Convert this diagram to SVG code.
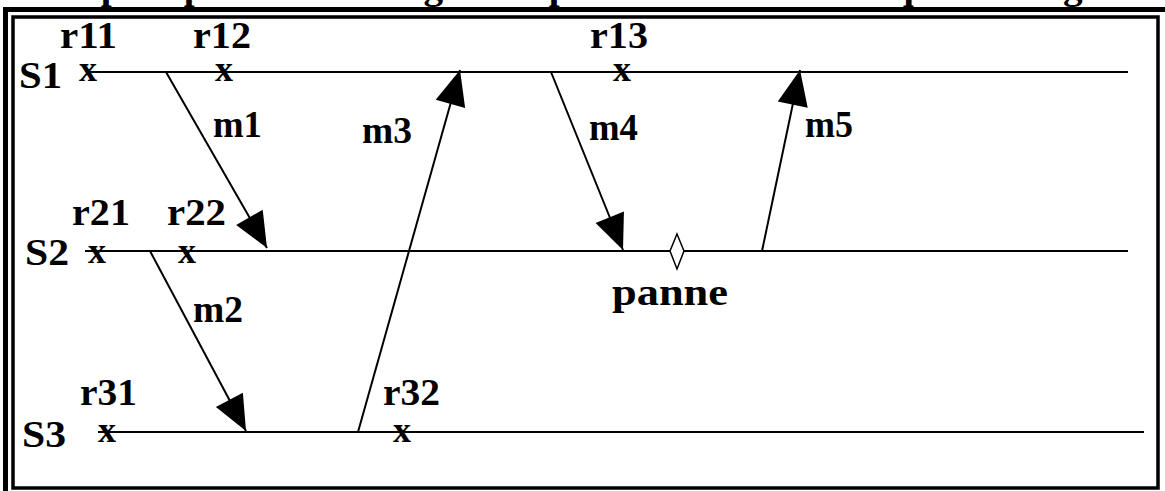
<svg xmlns="http://www.w3.org/2000/svg" width="1165" height="491" viewBox="0 0 1165 491">
<defs>
<marker id="ah" markerUnits="userSpaceOnUse" markerWidth="40" markerHeight="40" refX="30" refY="0" orient="auto" viewBox="-2 -16 34 32" overflow="visible">
<path d="M0,-13 L30,0 L0,13 Z" fill="#000"/>
</marker>
<style>
.t{font-family:"Liberation Serif","Times New Roman",serif;font-weight:bold;font-size:37px;fill:#000}
.s{font-family:"Liberation Serif","Times New Roman",serif;font-weight:bold;font-size:38px;fill:#000}
.x{font-family:"Liberation Serif","Times New Roman",serif;font-weight:bold;font-size:36px;fill:#000;text-anchor:middle}
.tl{stroke:#000;stroke-width:2.2;fill:none}
.msg{stroke:#000;stroke-width:2;fill:none;marker-end:url(#ah)}
</style>
</defs>
<rect width="1165" height="491" fill="#fff"/>
<text class="t" x="5" y="-1" font-size="32" textLength="1095" lengthAdjust="spacingAndGlyphs">Exemple : point de sauvegarde après émission de chaque message</text>
<rect x="5.5" y="9.5" width="1170" height="500" fill="none" stroke="#000" stroke-width="5"/>
<rect x="13" y="17" width="1145" height="471" fill="none" stroke="#000" stroke-width="3.5"/>

<g id="S1">
<line class="tl" x1="86" y1="72" x2="1128" y2="72"/>
<text class="s" x="19" y="88" textLength="43" lengthAdjust="spacingAndGlyphs">S1</text>
</g>
<g id="S2">
<line class="tl" x1="85" y1="251" x2="1128" y2="251"/>
<text class="s" x="25" y="265" textLength="44" lengthAdjust="spacingAndGlyphs">S2</text>
</g>
<g id="S3">
<line class="tl" x1="98" y1="432" x2="1144" y2="432"/>
<text class="s" x="22" y="447" textLength="44" lengthAdjust="spacingAndGlyphs">S3</text>
</g>

<g id="r11"><text class="t" x="60" y="48" textLength="57" lengthAdjust="spacingAndGlyphs">r11</text><text class="x" x="88" y="81">x</text></g>
<g id="r12"><text class="t" x="193" y="48" textLength="58" lengthAdjust="spacingAndGlyphs">r12</text><text class="x" x="224" y="81">x</text></g>
<g id="r13"><text class="t" x="590" y="48" textLength="58" lengthAdjust="spacingAndGlyphs">r13</text><text class="x" x="622" y="81">x</text></g>
<g id="r21"><text class="t" x="72" y="225" textLength="58" lengthAdjust="spacingAndGlyphs">r21</text><text class="x" x="97" y="263">x</text></g>
<g id="r22"><text class="t" x="167" y="225" textLength="59" lengthAdjust="spacingAndGlyphs">r22</text><text class="x" x="187" y="263">x</text></g>
<g id="r31"><text class="t" x="80" y="405" textLength="57" lengthAdjust="spacingAndGlyphs">r31</text><text class="x" x="107" y="442">x</text></g>
<g id="r32"><text class="t" x="383" y="405" textLength="57" lengthAdjust="spacingAndGlyphs">r32</text><text class="x" x="402" y="442">x</text></g>

<g id="panne">
<path d="M677,234 L684,251 L677,269 L670,251 Z" fill="#fff" stroke="#000" stroke-width="1.5"/>
<text class="t" x="612" y="305" textLength="116" lengthAdjust="spacingAndGlyphs">panne</text>
</g>

<g id="connectors">
<line class="msg" x1="166" y1="72" x2="267" y2="248"/>
<line class="msg" x1="150" y1="251" x2="246" y2="431"/>
<line class="msg" x1="358" y1="432" x2="460" y2="70"/>
<line class="msg" x1="551" y1="72" x2="623" y2="250"/>
<line class="msg" x1="762" y1="251" x2="800" y2="70"/>
<text class="t" x="213" y="137" textLength="49" lengthAdjust="spacingAndGlyphs">m1</text>
<text class="t" x="193" y="322" textLength="50" lengthAdjust="spacingAndGlyphs">m2</text>
<text class="t" x="362" y="143" textLength="50" lengthAdjust="spacingAndGlyphs">m3</text>
<text class="t" x="589" y="140" textLength="49" lengthAdjust="spacingAndGlyphs">m4</text>
<text class="t" x="805" y="137" textLength="48" lengthAdjust="spacingAndGlyphs">m5</text>
</g>
</svg>
